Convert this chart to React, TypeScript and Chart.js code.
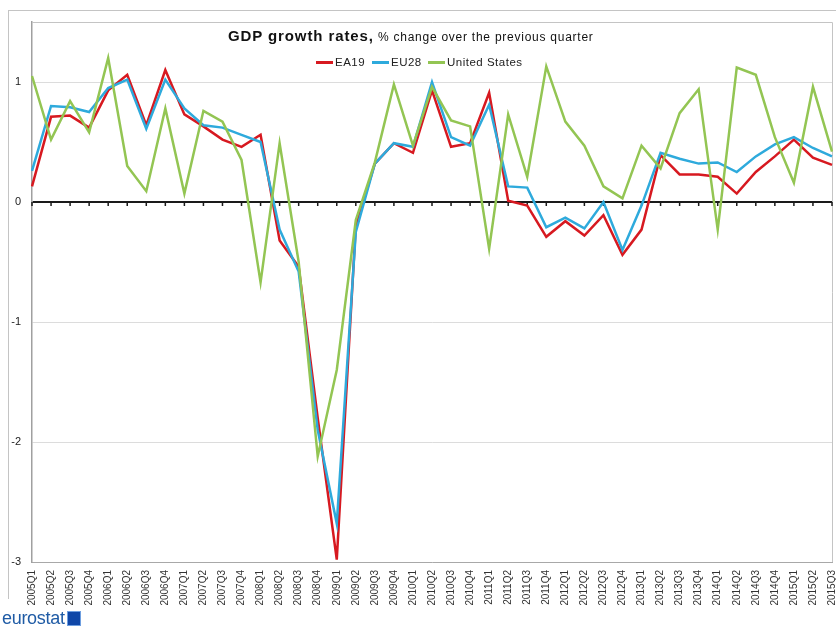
import { useEffect, useRef } from 'react';
import { Chart, registerables } from 'chart.js';

Chart.register(...registerables);

const quarters = [
  '2005Q1', '2005Q2', '2005Q3', '2005Q4',
  '2006Q1', '2006Q2', '2006Q3', '2006Q4',
  '2007Q1', '2007Q2', '2007Q3', '2007Q4',
  '2008Q1', '2008Q2', '2008Q3', '2008Q4',
  '2009Q1', '2009Q2', '2009Q3', '2009Q4',
  '2010Q1', '2010Q2', '2010Q3', '2010Q4',
  '2011Q1', '2011Q2', '2011Q3', '2011Q4',
  '2012Q1', '2012Q2', '2012Q3', '2012Q4',
  '2013Q1', '2013Q2', '2013Q3', '2013Q4',
  '2014Q1', '2014Q2', '2014Q3', '2014Q4',
  '2015Q1', '2015Q2', '2015Q3',
];

const ea19 = [
  0.13, 0.71, 0.72, 0.62, 0.93, 1.06, 0.64, 1.10, 0.73, 0.63, 0.52, 0.46,
  0.56, -0.32, -0.54, -1.80, -2.98, -0.20, 0.32, 0.49, 0.41, 0.93, 0.46, 0.49,
  0.91, 0.01, -0.03, -0.29, -0.16, -0.28, -0.11, -0.44, -0.23, 0.39, 0.23, 0.23,
  0.21, 0.07, 0.25, 0.38, 0.52, 0.37, 0.31,
];

const eu28 = [
  0.26, 0.80, 0.79, 0.75, 0.95, 1.02, 0.61, 1.02, 0.78, 0.64, 0.62, 0.56,
  0.50, -0.23, -0.58, -1.90, -2.68, -0.25, 0.32, 0.49, 0.46, 1.00, 0.54, 0.47,
  0.81, 0.13, 0.12, -0.21, -0.13, -0.22, 0.00, -0.40, -0.03, 0.41, 0.36, 0.32,
  0.33, 0.25, 0.38, 0.48, 0.54, 0.45, 0.38,
];

const unitedStates = [
  1.05, 0.52, 0.84, 0.58, 1.20, 0.30, 0.09, 0.78, 0.07, 0.76, 0.67, 0.35,
  -0.67, 0.49, -0.50, -2.12, -1.40, -0.15, 0.33, 0.98, 0.47, 0.96, 0.68, 0.63,
  -0.39, 0.73, 0.21, 1.13, 0.67, 0.47, 0.13, 0.03, 0.47, 0.28, 0.74, 0.94,
  -0.23, 1.12, 1.06, 0.54, 0.16, 0.96, 0.42,
];

const seriesNames = ['EA19', 'EU28', 'United States'];
const seriesColors = ['#d71920', '#2eaadc', '#93c553'];
const legendLeft = [316, 372, 428];

const FONT = "'Liberation Sans', Arial, sans-serif";

const framePlugin = {
  id: 'frameAndZeroTicks',
  beforeDatasetsDraw(chart: any) {
    const { ctx, chartArea, scales } = chart;
    const x = scales.x;
    const y = scales.y;
    ctx.save();
    ctx.strokeStyle = '#c4c4c4';
    ctx.lineWidth = 1;
    ctx.beginPath();
    ctx.moveTo(chartArea.left, chartArea.top + 0.5);
    ctx.lineTo(chartArea.right + 0.5, chartArea.top + 0.5);
    ctx.lineTo(chartArea.right + 0.5, chartArea.bottom);
    ctx.stroke();
    const y0 = y.getPixelForValue(0);
    ctx.strokeStyle = '#1a1a1a';
    ctx.lineWidth = 1.5;
    ctx.beginPath();
    for (let i = 0; i < quarters.length; i++) {
      const px = x.getPixelForValue(i);
      ctx.moveTo(px, y0);
      ctx.lineTo(px, y0 + 4);
    }
    ctx.stroke();
    ctx.restore();
  },
};

export default function App() {
  const canvasRef = useRef<HTMLCanvasElement | null>(null);

  useEffect(() => {
    if (!canvasRef.current) return;
    const data = [ea19, eu28, unitedStates];
    const chart = new Chart(canvasRef.current, {
      type: 'line',
      data: {
        labels: quarters,
        datasets: data.map((d, i) => ({
          label: seriesNames[i],
          data: d,
          borderColor: seriesColors[i],
          backgroundColor: seriesColors[i],
          borderWidth: 2.5,
          pointRadius: 0,
          tension: 0,
          fill: false,
          order: 3 - i,
        })),
      },
      options: {
        animation: false,
        responsive: false,
        maintainAspectRatio: false,
        layout: { padding: { top: 22, right: 0, left: 0, bottom: 0 } },
        plugins: {
          legend: { display: false },
          title: { display: false },
          tooltip: { enabled: false },
        },
        scales: {
          x: {
            type: 'category',
            offset: false,
            grid: { display: false, drawTicks: false },
            border: { display: true, color: '#a8a8a8', width: 1 },
            ticks: {
              autoSkip: false,
              maxRotation: 90,
              minRotation: 90,
              padding: 8,
              color: '#333',
              font: { family: FONT, size: 10 },
            },
            afterFit: (s: any) => {
              s.height = 70;
            },
          },
          y: {
            min: -3,
            max: 1.5,
            ticks: {
              stepSize: 1,
              includeBounds: false,
              padding: 11,
              color: '#222',
              font: { family: FONT, size: 11 },
            },
            grid: {
              drawTicks: false,
              color: (c: any) => (c.tick && c.tick.value === 0 ? '#1a1a1a' : '#dcdcdc'),
              lineWidth: (c: any) => (c.tick && c.tick.value === 0 ? 2 : 1),
            },
            border: { display: true, color: '#a0a0a0', width: 1.5 },
            afterFit: (s: any) => {
              s.width = 32;
            },
          },
        },
      },
      plugins: [framePlugin],
    });
    return () => chart.destroy();
  }, []);

  return (
    <div
      style={{
        position: 'absolute',
        left: 0,
        top: 0,
        width: 836,
        height: 632,
        overflow: 'hidden',
        background: '#fff',
        fontFamily: FONT,
      }}
    >
      <div
        style={{
          position: 'absolute',
          left: 8,
          top: 10,
          width: 900,
          height: 588,
          borderTop: '1px solid #c4c4c4',
          borderLeft: '1px solid #c4c4c4',
        }}
      />
      <canvas
        ref={canvasRef}
        width={852}
        height={632}
        style={{ position: 'absolute', left: 0, top: 0, width: 852, height: 632 }}
      />
      <div
        style={{
          position: 'absolute',
          left: 228,
          top: 27,
          color: '#111',
          whiteSpace: 'nowrap',
        }}
      >
        <span style={{ fontWeight: 'bold', fontSize: 15, letterSpacing: 0.9 }}>GDP growth rates,</span>
        <span style={{ fontSize: 12, letterSpacing: 0.75 }}> % change over the previous quarter</span>
      </div>
      {seriesNames.map((name, i) => (
        <div
          key={name}
          style={{
            position: 'absolute',
            left: legendLeft[i],
            top: 56,
            display: 'flex',
            alignItems: 'center',
            fontSize: 11.5,
            letterSpacing: 0.5,
            color: '#222',
            whiteSpace: 'nowrap',
          }}
        >
          <span
            style={{
              display: 'inline-block',
              width: 17,
              height: 3,
              background: seriesColors[i],
              marginRight: 2,
            }}
          />
          <span>{name}</span>
        </div>
      ))}
      <div
        style={{
          position: 'absolute',
          left: 2,
          top: 608,
          display: 'flex',
          alignItems: 'center',
        }}
      >
        <span style={{ color: '#1f5ba5', fontSize: 18, letterSpacing: -0.3 }}>eurostat</span>
        <span
          style={{
            display: 'inline-block',
            width: 12,
            height: 13,
            marginLeft: 2,
            background: '#0f47a8',
            border: '1px solid #6f9fe0',
          }}
        />
      </div>
    </div>
  );
}
